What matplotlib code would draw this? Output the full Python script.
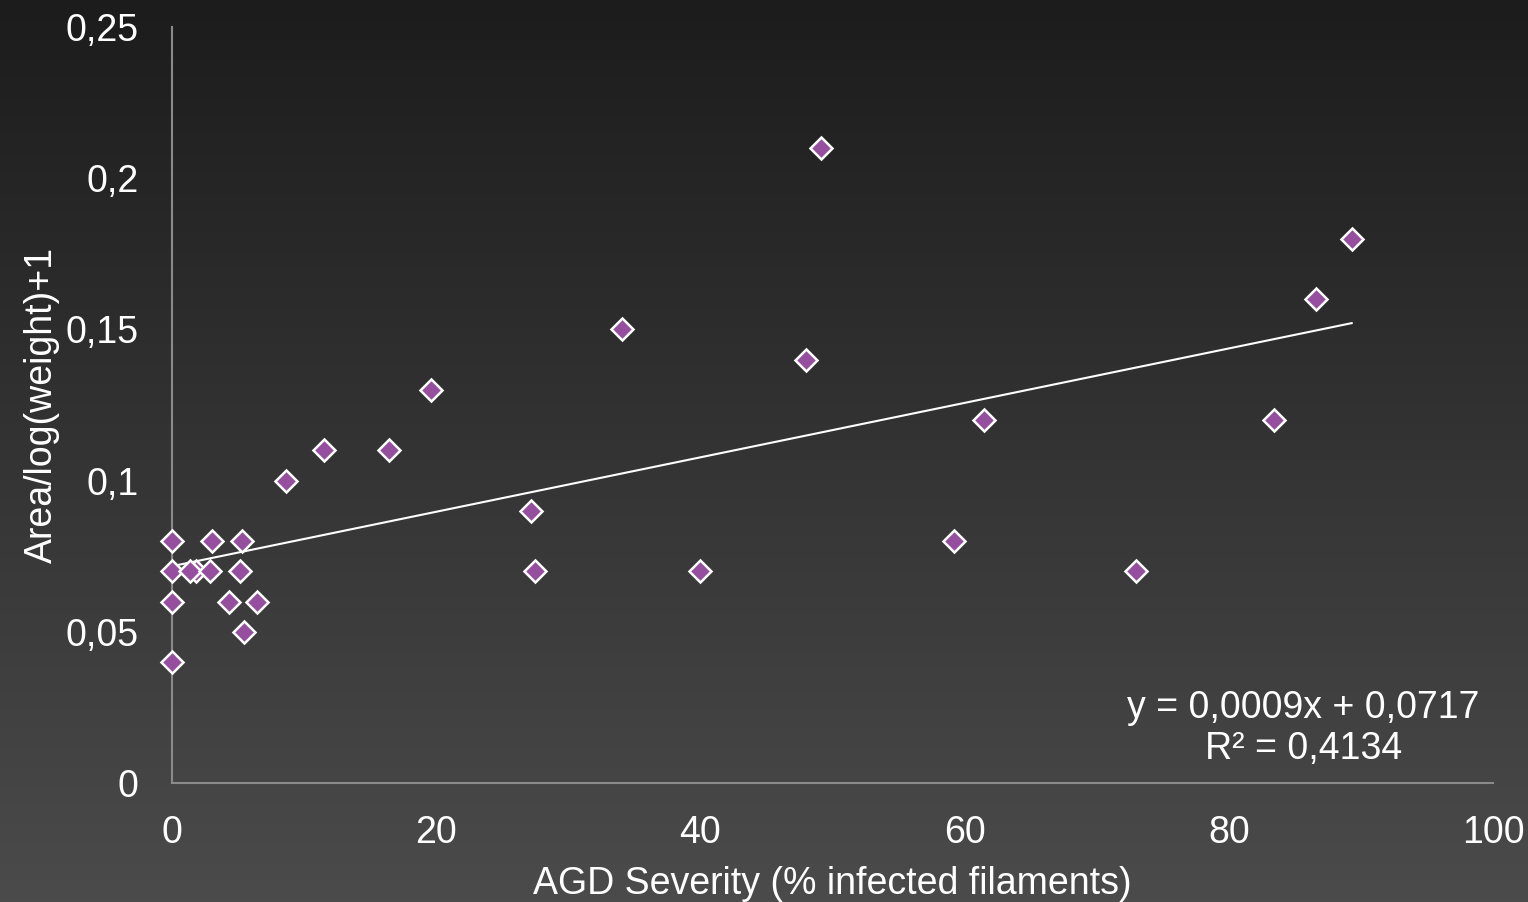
import numpy as np
import matplotlib
matplotlib.use("Agg")
import matplotlib.pyplot as plt
from matplotlib.colors import LinearSegmentedColormap
from matplotlib.ticker import FuncFormatter

# AGD severity (% infected filaments) and gill area / log(weight)+1
severity = [0, 0, 0, 0, 1.8, 1.36, 3.0, 2.9, 4.3, 5.3, 5.15, 5.45, 6.4,
            8.6, 11.5, 16.4, 19.6, 27.2, 27.5, 34.1, 40.0, 48.0, 49.1,
            59.2, 61.5, 73.0, 83.4, 86.6, 89.3]
area = [0.08, 0.07, 0.06, 0.04, 0.07, 0.07, 0.08, 0.07, 0.06, 0.08, 0.07,
        0.05, 0.06, 0.10, 0.11, 0.11, 0.13, 0.09, 0.07, 0.15, 0.07, 0.14,
        0.21, 0.08, 0.12, 0.07, 0.12, 0.16, 0.18]

slope = 0.0009
intercept = 0.0717
r_squared = 0.4134

x_ticks = [0, 20, 40, 60, 80, 100]
y_ticks = [0, 0.05, 0.1, 0.15, 0.2, 0.25]

plt.rcParams['font.family'] = ['Liberation Sans', 'DejaVu Sans']
FS = 27

fig = plt.figure(figsize=(15.28, 9.02), dpi=100)

# dark vertical gradient behind everything
bg = fig.add_axes([0, 0, 1, 1], zorder=-10)
grad = np.linspace(0, 1, 256).reshape(-1, 1)
cmap = LinearSegmentedColormap.from_list("bg", ["#1c1c1c", "#4b4b4b"])
bg.imshow(grad, aspect="auto", cmap=cmap, extent=[0, 1, 1, 0])
bg.set_axis_off()

ax = fig.add_axes([0.1126, 0.1319, 0.8645, 0.8382])
ax.patch.set_alpha(0)

ax.set_xlim(0, 100)
ax.set_ylim(0, 0.25)
ax.set_xticks(x_ticks)
ax.set_yticks(y_ticks)

def comma_fmt(v, pos):
    s = f"{v:.2f}".rstrip("0").rstrip(".")
    return s.replace(".", ",")

ax.yaxis.set_major_formatter(FuncFormatter(comma_fmt))
ax.xaxis.set_major_formatter(FuncFormatter(lambda v, p: f"{v:.0f}"))

for side in ("top", "right"):
    ax.spines[side].set_visible(False)
for side in ("left", "bottom"):
    ax.spines[side].set_color("#8a8a8a")
    ax.spines[side].set_linewidth(1.5)

ax.tick_params(axis="both", length=0, colors="white", labelsize=FS)
ax.tick_params(axis="y", pad=24)
ax.tick_params(axis="x", pad=23)

# linear trend line over the data range
xs = np.array([0, max(severity)])
ax.plot(xs, slope * xs + intercept, color="white", lw=1.5, zorder=2)

ax.plot(severity, area, linestyle="none", marker="D", markersize=11,
        markerfacecolor="#954f9e", markeredgecolor="white",
        markeredgewidth=1.8, zorder=3, clip_on=False)

ax.set_xlabel("AGD Severity (% infected filaments)", color="white",
              fontsize=FS, labelpad=11)
ax.set_ylabel("Area/log(weight)+1", color="white", fontsize=FS, labelpad=4)

eq = (f"y = {slope:.4f}x + {intercept:.4f}".replace(".", ",")
      + "\n" + f"R² = {r_squared:.4f}".replace(".", ","))
ax.text(0.990, 0.072, eq, transform=ax.transAxes, ha="right", va="center",
        color="white", fontsize=FS, multialignment="center", linespacing=1.2)

fig.savefig("out.png", dpi=100)
